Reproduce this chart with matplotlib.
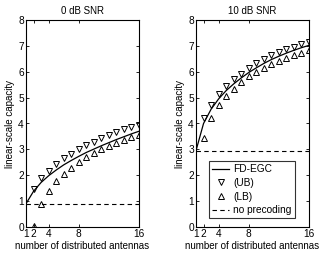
import matplotlib
matplotlib.use("Agg")
import matplotlib.pyplot as plt

plt.rcParams['font.family'] = ['Liberation Sans', 'DejaVu Sans']

n_line = [1, 2, 3, 4, 5, 6, 7, 8, 9, 10, 11, 12, 13, 14, 15, 16]
n_pts = [2, 3, 4, 5, 6, 7, 8, 9, 10, 11, 12, 13, 14, 15, 16]

# 0 dB SNR
egc_0 = [0.9, 1.38, 1.72, 1.98, 2.2, 2.4, 2.57, 2.73, 2.88, 3.01, 3.14, 3.26, 3.38, 3.49, 3.6, 3.7]
ub_0 = [1.47, 1.88, 2.18, 2.45, 2.65, 2.83, 3.03, 3.16, 3.30, 3.43, 3.56, 3.68, 3.8, 3.87, 3.94]
lb_0 = [0.05, 0.88, 1.39, 1.77, 2.05, 2.29, 2.5, 2.69, 2.86, 3.0, 3.13, 3.26, 3.36, 3.46, 3.55]
nopre_0 = 0.89

# 10 dB SNR
egc_10 = [2.95, 4.0, 4.55, 4.95, 5.27, 5.53, 5.76, 5.97, 6.15, 6.32, 6.47, 6.6, 6.72, 6.83, 6.93, 7.02]
ub_10 = [4.2, 4.73, 5.14, 5.44, 5.71, 5.93, 6.14, 6.32, 6.49, 6.64, 6.75, 6.86, 6.96, 7.06, 7.15]
lb_10 = [3.45, 4.2, 4.72, 5.05, 5.35, 5.6, 5.82, 6.0, 6.16, 6.3, 6.42, 6.53, 6.63, 6.73, 6.85]
nopre_10 = 2.93

titles = ["0 dB SNR", "10 dB SNR"]
xticks = [1, 2, 4, 8, 16]
yticks = [0, 1, 2, 3, 4, 5, 6, 7, 8]

fig = plt.figure(figsize=(3.2, 2.62), dpi=100)
ax1 = fig.add_axes([26/320, 35/262, 113/320, 207/262])
ax2 = fig.add_axes([196/320, 35/262, 113/320, 207/262])

fs = 7.0
for ax, egc, ub, lb, nop, title in [(ax1, egc_0, ub_0, lb_0, nopre_0, titles[0]),
                                    (ax2, egc_10, ub_10, lb_10, nopre_10, titles[1])]:
    ax.plot(n_line, egc, '-', color='black', lw=0.9, label='FD-EGC')
    ax.plot(n_pts, ub, linestyle='none', marker='v', mfc='none', mec='black',
            ms=4.2, mew=0.7, label='(UB)')
    ax.plot(n_pts, lb, linestyle='none', marker='^', mfc='none', mec='black',
            ms=4.2, mew=0.7, label='(LB)')
    ax.plot([1, 16], [nop, nop], '--', color='black', lw=0.8, dashes=(4, 3),
            label='no precoding')
    ax.set_xlim(1, 16)
    ax.set_ylim(0, 8)
    ax.set_xticks(xticks)
    ax.set_yticks(yticks)
    ax.tick_params(direction='in', top=True, right=True, labelsize=fs + 0.3,
                   length=2.5, width=0.6, pad=1.5)
    ax.set_title(title, fontsize=fs, pad=4)
    ax.set_xlabel('number of distributed antennas', fontsize=fs, labelpad=1.5)
    ax.set_ylabel('linear-scale capacity', fontsize=fs, labelpad=2)
    for s in ax.spines.values():
        s.set_linewidth(0.8)

leg = ax2.legend(loc='lower left', bbox_to_anchor=(0.115, 0.043), fontsize=fs + 0.3,
                 frameon=True, fancybox=False, edgecolor='black',
                 handlelength=1.7, handletextpad=0.4, borderpad=0.3,
                 labelspacing=0.35, borderaxespad=0)
leg.get_frame().set_linewidth(0.8)

fig.savefig('out.png', dpi=100)
